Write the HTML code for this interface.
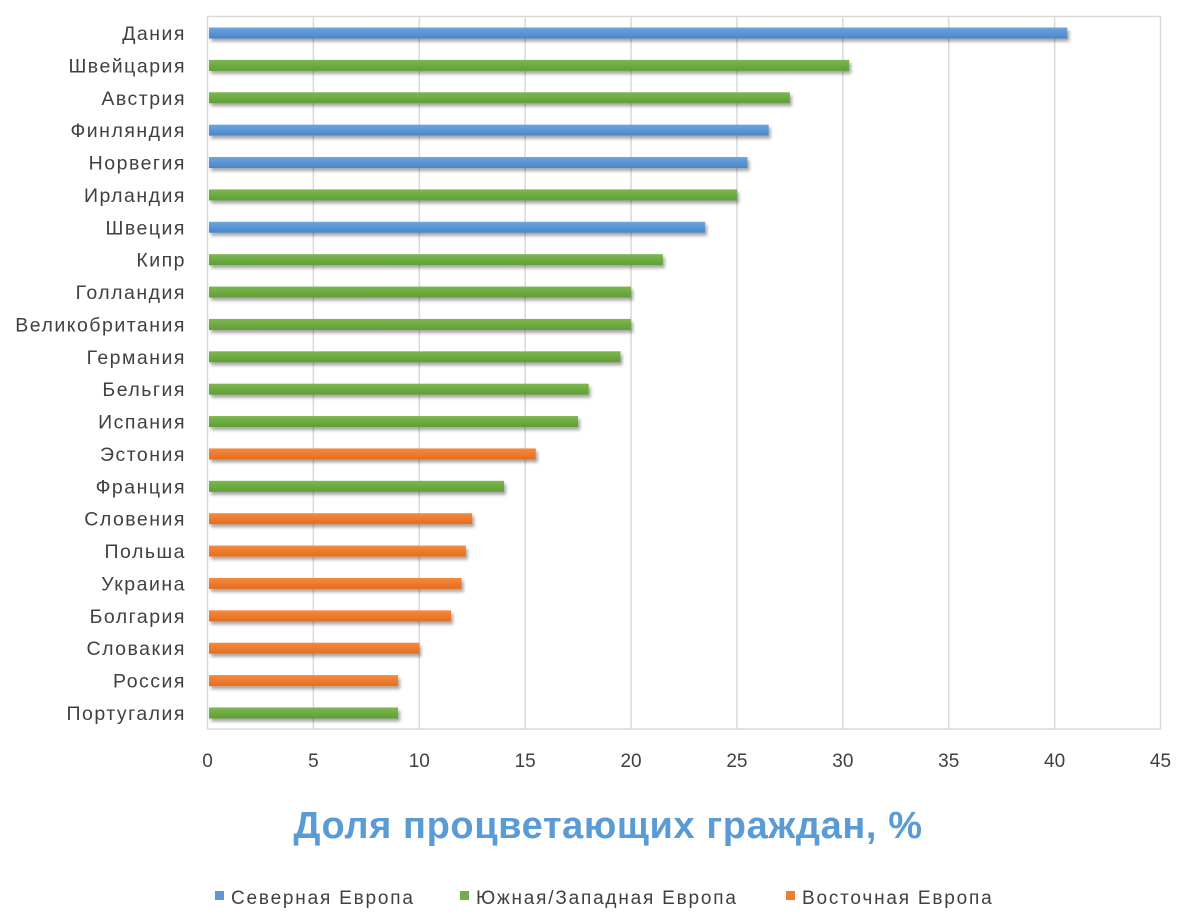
<!DOCTYPE html>
<html><head><meta charset="utf-8"><style>body{margin:0;background:#fff}svg{display:block}</style></head><body>
<svg width="1186" height="917" xmlns="http://www.w3.org/2000/svg" font-family="Liberation Sans, DejaVu Sans, sans-serif">
<defs>
<filter id="sh" x="-5%" y="-50%" width="110%" height="250%"><feDropShadow dx="2" dy="3" stdDeviation="1.5" flood-color="#000" flood-opacity="0.35"/></filter>
<linearGradient id="gb" x1="0" y1="0" x2="0" y2="1"><stop offset="0" stop-color="#6aa6e0"/><stop offset="1" stop-color="#4a86c8"/></linearGradient>
<linearGradient id="gg" x1="0" y1="0" x2="0" y2="1"><stop offset="0" stop-color="#7cb84e"/><stop offset="1" stop-color="#5f9f36"/></linearGradient>
<linearGradient id="go" x1="0" y1="0" x2="0" y2="1"><stop offset="0" stop-color="#f48a3e"/><stop offset="1" stop-color="#e56d1f"/></linearGradient>
</defs>
<g id="grid" stroke="#d9d9d9" stroke-width="1.5"></g>
<rect x="207.5" y="16.5" width="953" height="712.5" fill="none" stroke="#d9d9d9" stroke-width="1.5"/>
<g id="bars"></g>
<g id="labels" font-size="19.5" fill="#404040" text-anchor="end" letter-spacing="1.5"></g>
<g id="ticks" font-size="19" fill="#404040" text-anchor="middle"></g>
<text x="608" y="838" font-size="38" font-weight="bold" fill="#5b9bd5" text-anchor="middle" letter-spacing="0.6">Доля процветающих граждан, %</text>
<g font-size="19" fill="#404040" letter-spacing="1.8">
<rect x="215" y="891" width="9" height="9" fill="#5b9bd5"/><text x="231" y="904">Северная Европа</text>
<rect x="460" y="891" width="9" height="9" fill="#70ad47"/><text x="476" y="904">Южная/Западная Европа</text>
<rect x="786" y="891" width="9" height="9" fill="#ed7d31"/><text x="802" y="904">Восточная Европа</text>
</g>
</svg>
<script>
const d=[["Дания",40.6,"b"],["Швейцария",30.3,"g"],["Австрия",27.5,"g"],["Финляндия",26.5,"b"],["Норвегия",25.5,"b"],["Ирландия",25,"g"],["Швеция",23.5,"b"],["Кипр",21.5,"g"],["Голландия",20,"g"],["Великобритания",20,"g"],["Германия",19.5,"g"],["Бельгия",18,"g"],["Испания",17.5,"g"],["Эстония",15.5,"o"],["Франция",14,"g"],["Словения",12.5,"o"],["Польша",12.2,"o"],["Украина",12,"o"],["Болгария",11.5,"o"],["Словакия",10,"o"],["Россия",9,"o"],["Португалия",9,"g"]];
const NS="http://www.w3.org/2000/svg",x0=207.5,k=953/45;
function el(p,t,a,txt){const e=document.createElementNS(NS,t);for(const i in a)e.setAttribute(i,a[i]);if(txt!=null)e.textContent=txt;document.getElementById(p).appendChild(e);}
for(let i=1;i<9;i++){const x=x0+i*5*k;el("grid","line",{x1:x,x2:x,y1:16,y2:729});}
for(let i=0;i<=9;i++)el("ticks","text",{x:x0+i*5*k,y:767},i*5);
d.forEach((r,i)=>{const y=33+i*32.38;el("bars","rect",{x:209,y:y-5.5,width:r[1]*k-1.5,height:11,fill:"url(#g"+r[2]+")",filter:"url(#sh)"});el("labels","text",{x:186,y:y+7},r[0]);});
</script>
</body></html>
